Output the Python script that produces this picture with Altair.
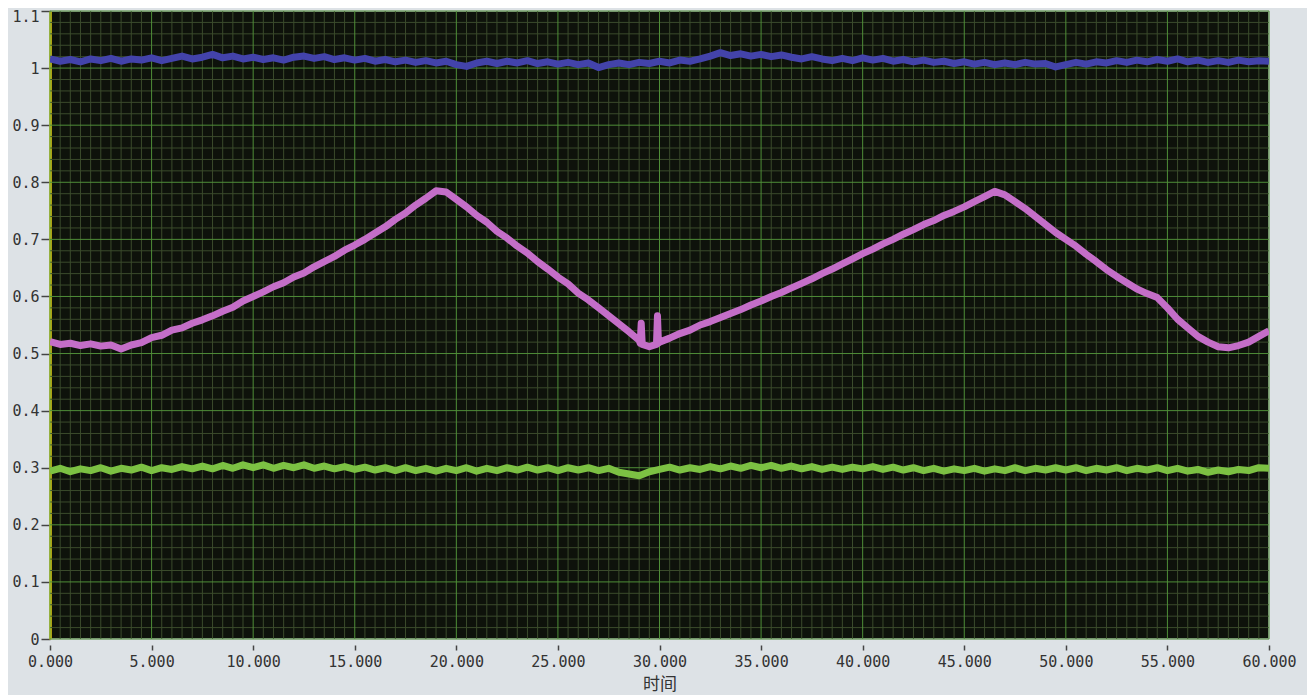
import altair as alt
import pandas as pd

# ---- data ----
t = [i * 0.5 for i in range(121)]  # sample times, 0 .. 60

pink_v = [0.521, 0.516, 0.518, 0.514, 0.517, 0.513, 0.515, 0.508, 0.515, 0.519,
          0.528, 0.532, 0.541, 0.545, 0.553, 0.559, 0.566, 0.574, 0.581, 0.592,
          0.600, 0.608, 0.617, 0.624, 0.634, 0.641, 0.652, 0.661, 0.670, 0.681,
          0.690, 0.700, 0.711, 0.722, 0.735, 0.746, 0.760, 0.772, 0.785, 0.783,
          0.770, 0.757, 0.742, 0.730, 0.714, 0.702, 0.688, 0.676, 0.661, 0.648,
          0.634, 0.622, 0.606, 0.594, 0.580, 0.566, 0.552, 0.538, 0.523, 0.512,
          0.520, 0.527, 0.535, 0.541, 0.550, 0.556, 0.563, 0.570, 0.577, 0.585,
          0.592, 0.600, 0.607, 0.615, 0.623, 0.631, 0.640, 0.648, 0.657, 0.666,
          0.675, 0.683, 0.692, 0.700, 0.709, 0.717, 0.726, 0.733, 0.742, 0.749,
          0.757, 0.766, 0.775, 0.784, 0.778, 0.766, 0.754, 0.740, 0.726, 0.712,
          0.700, 0.688, 0.674, 0.661, 0.647, 0.635, 0.624, 0.613, 0.605, 0.598,
          0.580, 0.560, 0.545, 0.530, 0.520, 0.512, 0.510, 0.514, 0.520, 0.530,
          0.540]
spike_t = [29.05, 29.1, 29.15, 29.85, 29.9, 29.95]
spike_v = [0.518, 0.553, 0.516, 0.516, 0.566, 0.518]

blue_v = [1.016, 1.012, 1.015, 1.011, 1.016, 1.013, 1.017, 1.012, 1.016, 1.014,
          1.018, 1.013, 1.017, 1.021, 1.016, 1.019, 1.024, 1.018, 1.021, 1.016,
          1.019, 1.015, 1.018, 1.014, 1.019, 1.021, 1.017, 1.020, 1.015, 1.018,
          1.014, 1.017, 1.012, 1.015, 1.011, 1.014, 1.010, 1.013, 1.009, 1.012,
          1.006, 1.003, 1.009, 1.012, 1.008, 1.012, 1.009, 1.013, 1.008, 1.011,
          1.007, 1.010, 1.006, 1.009, 1.001, 1.006, 1.009, 1.006, 1.010, 1.008,
          1.012, 1.009, 1.014, 1.012, 1.016, 1.021, 1.027, 1.022, 1.025, 1.021,
          1.024, 1.020, 1.023, 1.019, 1.016, 1.020, 1.016, 1.013, 1.017, 1.013,
          1.018, 1.014, 1.017, 1.012, 1.015, 1.011, 1.014, 1.010, 1.012, 1.008,
          1.011, 1.007, 1.010, 1.006, 1.009, 1.006, 1.010, 1.007, 1.008, 1.002,
          1.006, 1.010, 1.007, 1.011, 1.009, 1.013, 1.010, 1.014, 1.011, 1.015,
          1.012, 1.016, 1.011, 1.014, 1.010, 1.013, 1.010, 1.014, 1.011, 1.013,
          1.012]

green_v = [0.294, 0.299, 0.293, 0.298, 0.295, 0.300, 0.294, 0.299, 0.296, 0.301,
           0.295, 0.300, 0.297, 0.302, 0.298, 0.303, 0.298, 0.304, 0.299, 0.305,
           0.300, 0.305, 0.299, 0.304, 0.300, 0.305, 0.299, 0.303, 0.298, 0.302,
           0.297, 0.301, 0.296, 0.300, 0.295, 0.300, 0.295, 0.299, 0.294, 0.299,
           0.295, 0.300, 0.294, 0.299, 0.295, 0.300, 0.296, 0.301, 0.296, 0.300,
           0.295, 0.300, 0.296, 0.300, 0.295, 0.299, 0.292, 0.289, 0.286, 0.293,
           0.297, 0.301, 0.296, 0.300, 0.297, 0.302, 0.298, 0.303, 0.299, 0.304,
           0.300, 0.304, 0.299, 0.303, 0.298, 0.302, 0.297, 0.301, 0.297, 0.301,
           0.298, 0.302, 0.297, 0.301, 0.296, 0.300, 0.295, 0.299, 0.294, 0.298,
           0.295, 0.299, 0.294, 0.298, 0.295, 0.300, 0.295, 0.299, 0.296, 0.300,
           0.296, 0.300, 0.295, 0.299, 0.296, 0.300, 0.295, 0.299, 0.296, 0.300,
           0.295, 0.299, 0.294, 0.297, 0.292, 0.296, 0.293, 0.297, 0.295, 0.300,
           0.299]

x_ticks = [0, 5, 10, 15, 20, 25, 30, 35, 40, 45, 50, 55, 60]
y_ticks = [0, 0.1, 0.2, 0.3, 0.4, 0.5, 0.6, 0.7, 0.8, 0.9, 1.0, 1.1]
x_minor = [i * 0.5 for i in range(121) if i % 10 != 0]
y_minor = [i * 0.02 for i in range(56) if i % 5 != 0]

series = ["blue", "pink", "green"]
series_colors = ["#4343aa", "#c46ec8", "#7cc143"]
series_widths = [7, 7, 9]

# ---- tables ----
pink_pts = sorted(list(zip(t, pink_v)) + list(zip(spike_t, spike_v)))
rows = []
for ti, v in zip(t, blue_v):
    rows.append({"t": ti, "v": v, "s": "blue"})
for ti, v in pink_pts:
    rows.append({"t": ti, "v": v, "s": "pink"})
for ti, v in zip(t, green_v):
    rows.append({"t": ti, "v": v, "s": "green"})
df = pd.DataFrame(rows)

xs = alt.Scale(domain=[0, 60], nice=False, zero=False)
ys = alt.Scale(domain=[0, 1.1], nice=False, zero=False)

ax_x = alt.Axis(values=x_ticks, format=".3f", grid=False, domain=False,
                offset=6, tickSize=5, tickColor="#444", tickWidth=1.5,
                labelPadding=4, labelFont="DejaVu Sans Mono", labelFontSize=15,
                labelColor="#333", labelFlush=False, labelOverlap=False,
                titleFont="Noto Sans CJK SC", titleFontSize=17,
                titleFontWeight="normal", titleColor="#333", titlePadding=7)
ax_y = alt.Axis(values=y_ticks, format=".2~f", grid=False, domain=True,
                domainColor="#e0d21a", domainWidth=2.5, offset=0,
                tickSize=9, tickColor="#444", tickWidth=1.5, labelPadding=2,
                labelFont="DejaVu Sans Mono", labelFontSize=15, labelColor="#333",
                labelFlush=False, labelOverlap=False,
                labelOffset={"condition": {"test": "datum.value > 1.05", "value": 5},
                             "value": 0})

X_TITLE = "时间"

minor_x = alt.Chart(pd.DataFrame({"gx": x_minor})).mark_rule(
    color="#3b4b2c", strokeWidth=1).encode(
    x=alt.X("gx:Q", scale=xs, axis=ax_x, title=X_TITLE))
minor_y = alt.Chart(pd.DataFrame({"gy": y_minor})).mark_rule(
    color="#3b4b2c", strokeWidth=1).encode(
    y=alt.Y("gy:Q", scale=ys, axis=ax_y, title=None))
major_x = alt.Chart(pd.DataFrame({"gx": x_ticks})).mark_rule(
    color="#4f8e38", strokeWidth=1).encode(
    x=alt.X("gx:Q", scale=xs, axis=ax_x, title=X_TITLE))
major_y = alt.Chart(pd.DataFrame({"gy": y_ticks})).mark_rule(
    color="#4f8e38", strokeWidth=1).encode(
    y=alt.Y("gy:Q", scale=ys, axis=ax_y, title=None))

lines = alt.Chart(df).mark_line(clip=True, strokeJoin="round").encode(
    x=alt.X("t:Q", scale=xs, axis=ax_x, title=X_TITLE),
    y=alt.Y("v:Q", scale=ys, axis=ax_y, title=None),
    color=alt.Color("s:N", scale=alt.Scale(domain=series, range=series_colors),
                    legend=None),
    size=alt.Size("s:N", scale=alt.Scale(domain=series, range=series_widths),
                  legend=None),
    detail="s:N",
)

chart = alt.layer(minor_x, minor_y, major_x, major_y, lines).properties(
    width=1219, height=628,
    autosize=alt.AutoSizeParams(type="none"),
    padding={"left": 42, "top": 3, "right": 38, "bottom": 56},
    background="#dde2e6",
).configure_view(fill="#0e120b", stroke="#c9cdd0", strokeWidth=1.5)

chart.save("out.html", embed_options={"renderer": "svg", "actions": False})
